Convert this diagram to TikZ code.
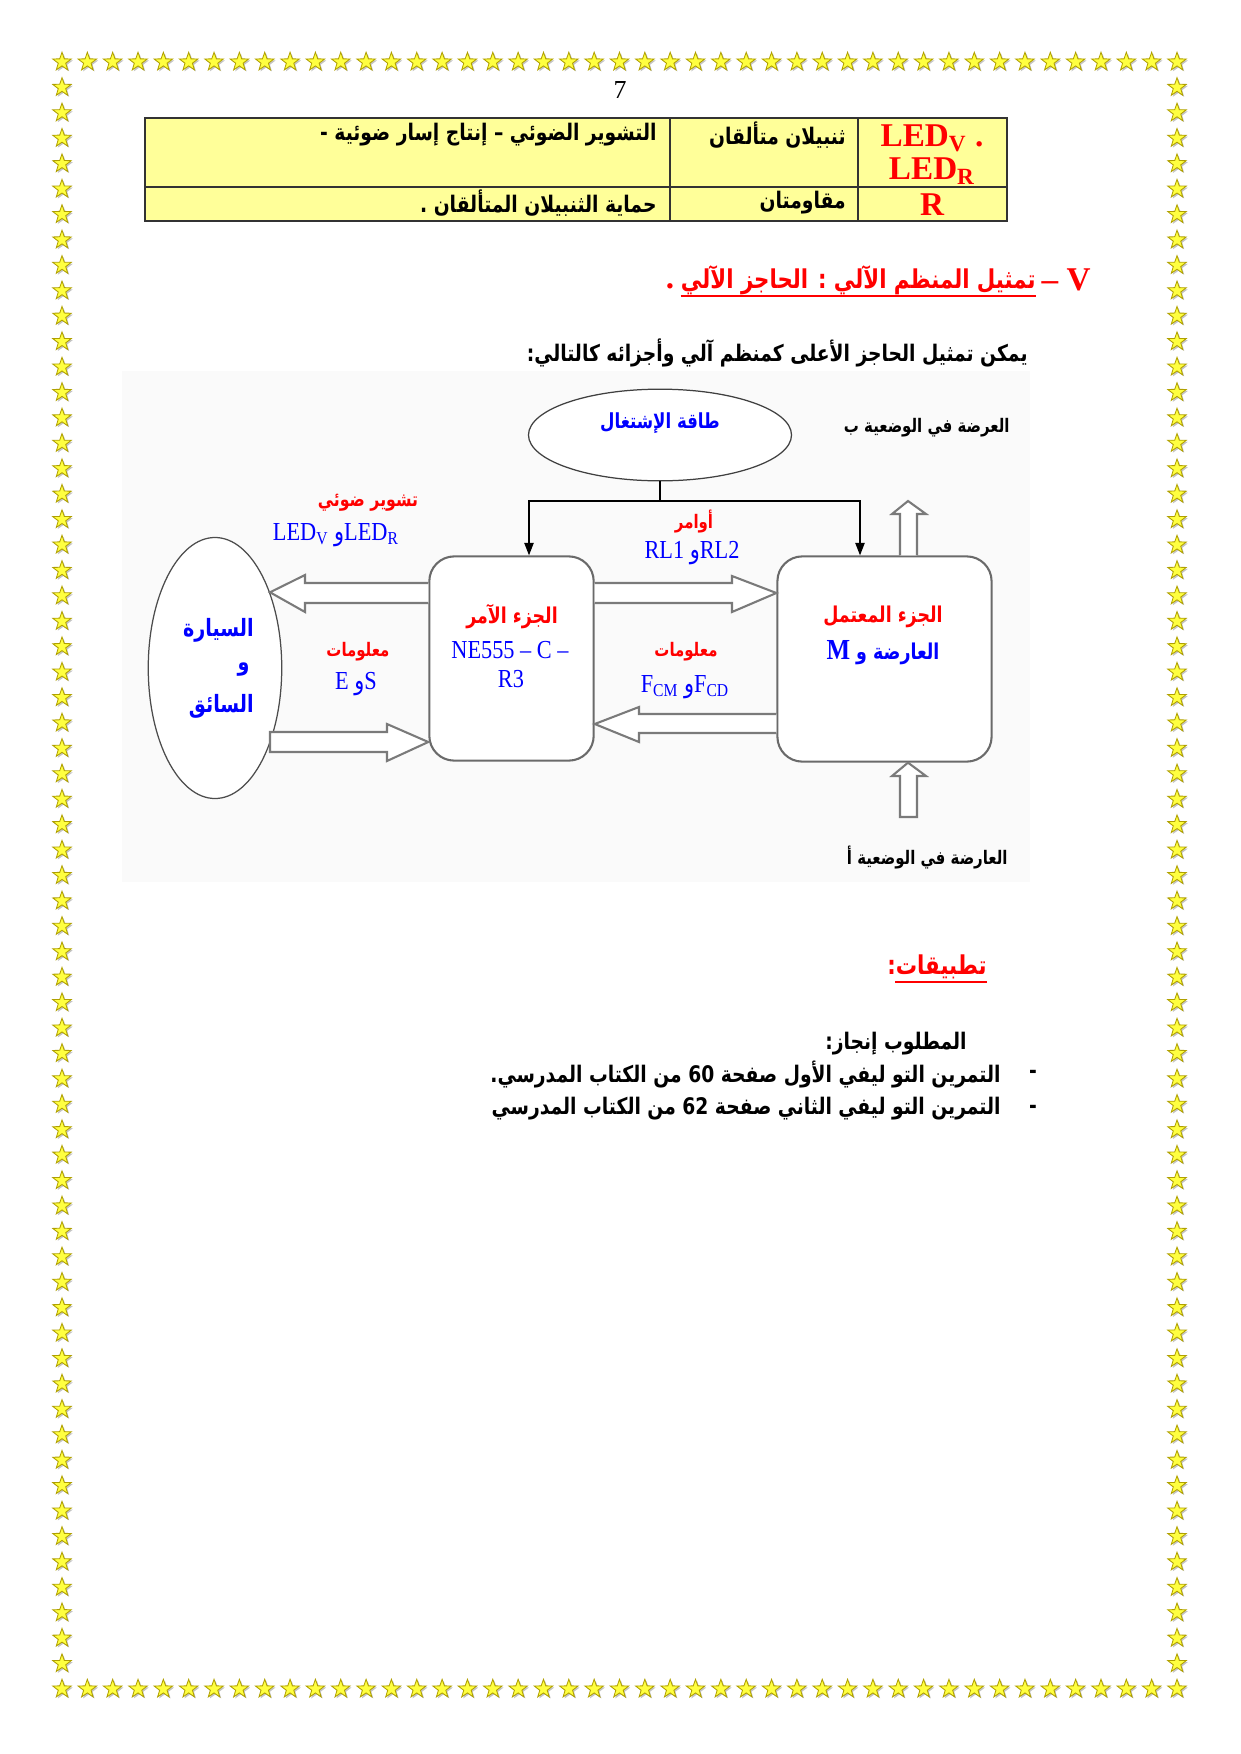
\documentclass[tikz,border=0pt]{standalone}
\usepackage{fontspec}
\usepackage{tikz}
\usetikzlibrary{shapes.geometric,arrows.meta,calc}
\setmainfont{Liberation Serif}
\newfontfamily\arabicfont[Script=Arabic,FakeStretch=0.82]{DejaVu Sans}
\newfontfamily\schemafont[FakeStretch=0.86]{Liberation Serif}
\newfontfamily\schemaarabic[Script=Arabic,FakeStretch=0.8]{DejaVu Sans}
\TeXXeTstate=1
\definecolor{tabyellow}{HTML}{FFFF99}
\definecolor{starfill}{HTML}{FFFF40}
\definecolor{staredge}{HTML}{B0A000}
\definecolor{starshadow}{HTML}{C4C4C4}
\definecolor{boxgrey}{HTML}{6A6A6A}
\definecolor{arrowgrey}{HTML}{7A7A7A}
\newdimen\pxu \pxu=0.4801pt
\newcommand{\rtl}[1]{\beginR #1\endR}

\begin{document}
\begin{tikzpicture}[x=0.016935cm, y=-0.016935cm,
  starbox/.style={star, star points=5, star point ratio=2.5, minimum size=9.4pt, inner sep=0pt, fill=starfill, draw=staredge, line width=0.4pt},
  starshade/.style={star, star points=5, star point ratio=2.5, minimum size=9.4pt, inner sep=0pt, fill=starshadow},
  tabline/.style={draw=black!80, line width=0.9pt},
  cell/.style={inner sep=0pt, font=\arabicfont\bfseries\fontsize{11}{13}\selectfont},
  ledtxt/.style={inner sep=0pt, text=red, font=\bfseries\fontsize{16}{18}\selectfont},
  partbox/.style={rectangle, rounded corners=12pt, draw=boxgrey, line width=1pt, fill=white, inner sep=0pt},
  bigarrow/.style={draw=arrowgrey, line width=1pt, fill=white, line join=miter},
  order/.style={draw=black, line width=0.6pt},
  schemaar/.style={inner sep=0pt, font=\schemaarabic\bfseries\fontsize{10.5}{12}\selectfont},
  smallar/.style={inner sep=0pt, font=\schemaarabic\bfseries\fontsize{9}{11}\selectfont},
  schemalat/.style={inner sep=0pt, text=blue, font=\schemafont\fontsize{12.5}{14}\selectfont},
  bodytxt/.style={inner sep=0pt, font=\arabicfont\bfseries\fontsize{11}{13}\selectfont}]
\useasboundingbox (0,0) rectangle (1240,1754);
\fill[white] (0,0) rectangle (1240,1754);

%====================================================
% STAR FRAME
%====================================================
\foreach \i in {0,...,44} {
  \node[starshade] at ({63.5+25.341*\i},63.5) {};
  \node[starshade] at ({63.5+25.341*\i},1690.5) {};
  \node[starbox] (startop\i) at ({62+25.341*\i},62) {};
  \node[starbox] (starbot\i) at ({62+25.341*\i},1689) {};
}
\foreach \j in {1,...,63} {
  \node[starshade] at (63.5,{63.5+25.422*\j}) {};
  \node[starshade] at (1178.5,{63.5+25.422*\j}) {};
  \node[starbox] (starleft\j) at (62,{62+25.422*\j}) {};
  \node[starbox] (starright\j) at (1177,{62+25.422*\j}) {};
}

\node[inner sep=0pt, font=\fontsize{12.5}{14}\selectfont] (pagenum) at (620,90) {7};

%====================================================
% COMPONENT TABLE
%====================================================
\fill[tabyellow] (145,118) rectangle (1007,221);
\draw[tabline] (145,118) rectangle (1007,221);
\draw[tabline] (145,187) -- (1007,187);
\draw[tabline] (670,118) -- (670,221);
\draw[tabline] (858,118) -- (858,221);
\node[cell, anchor=east] (role1) at (657,135) {\rtl{التشوير الضوئي – إنتاج إسار ضوئية -}};
\node[cell, anchor=east] (name1) at (846,135) {\rtl{ثنبيلان متألقان}};
\node[ledtxt] (ledv) at (932,138) {LED\textsubscript{V} .};
\node[ledtxt] (ledr) at (932,171) {LED\textsubscript{R}};
\node[cell, anchor=east] (role2) at (657,203) {\rtl{حماية الثنبيلان المتألقان .}};
\node[cell, anchor=east] (name2) at (846,203) {\rtl{مقاومتان}};
\node[ledtxt] (resr) at (932,205) {R};

%====================================================
% TITLE AND INTRO
%====================================================
\node[ledtxt, anchor=east] (secnum) at (1091,280) {– V};
\node[inner sep=0pt, anchor=east, text=red, font=\arabicfont\bfseries\fontsize{12.5}{15}\selectfont] (sectitle) at (1036,280) {\rtl{تمثيل المنظم الآلي : الحاجز الآلي}};
\draw[red, line width=1pt] ($(sectitle.west)+(0,16)$) -- ($(sectitle.east)+(0,16)$);
\node[ledtxt, anchor=base east] (secdot) at ($(sectitle.base west)+(-6,0)$) {.};
\node[bodytxt, anchor=east] (intro) at (1028,353) {\rtl{يمكن تمثيل الحاجز الأعلى كمنظم آلي وأجزائه كالتالي:}};

%====================================================
% AUTOMATED SYSTEM SCHEME
%====================================================
\fill[black!2] (122,371) rectangle (1030,882);
\node[ellipse, draw=black!75, line width=0.6pt, fill=white, minimum width=264\pxu, minimum height=92\pxu, inner sep=0pt] (energy) at (660,435) {};
\node[schemaar, text=blue, font=\schemaarabic\bfseries\fontsize{10}{12}\selectfont] (energylbl) at (660,423) {\rtl{طاقة الإشتغال}};
\node[smallar, anchor=east] (posb) at (1010,428) {\rtl{العرضة في الوضعية ب}};

\node[partbox, minimum width=165\pxu, minimum height=205\pxu] (cmd) at (511.5,658.5) {};
\node[partbox, minimum width=215\pxu, minimum height=206\pxu] (op) at (884.5,659) {};
\node[ellipse, draw=black!70, line width=0.6pt, fill=white, minimum width=134\pxu, minimum height=262\pxu, inner sep=0pt] (car) at (215,668) {};

% orders from energy
\coordinate (split) at (energy.south |- 0,501);
\draw[order] (energy.south) -- (split);
\draw[order, -{Triangle[length=6pt,width=4.5pt]}] (split) -| ($(cmd.north)+(17.5,0)$);
\draw[order, -{Triangle[length=6pt,width=4.5pt]}] (split) -| ($(op.north)+(-24.5,0)$);

% block arrows
\draw[bigarrow] (cmd.west |- 0,583) -- (305,583) -- (305,575) -- (car.54) -- (305,612) -- (305,603) -- (cmd.west |- 0,603);
\draw[bigarrow] (car.-54 |- 0,732) -- (387,732) -- (387,724) -- (cmd.west |- 0,742) -- (387,761) -- (387,752) -- (car.-54 |- 0,752) -- cycle;
\draw[bigarrow] (cmd.east |- 0,583) -- (732,583) -- (732,576) -- (op.west |- 0,593) -- (732,612) -- (732,603) -- (cmd.east |- 0,603);
\draw[bigarrow] (op.west |- 0,714) -- (639,714) -- (639,707) -- (cmd.east |- 0,724) -- (639,742) -- (639,733) -- (op.west |- 0,733);
\draw[bigarrow] (op.north -| 900,0) -- (900,514) -- (892,514) -- (908,501) -- (926,514) -- (917,514) -- (op.north -| 917,0);
\draw[bigarrow] (900,817) -- (900,776) -- (892,776) -- (op.south -| 908,0) -- (926,776) -- (917,776) -- (917,817) -- cycle;

% labels
\node[smallar, text=red, font=\schemaarabic\bfseries\fontsize{9.5}{11}\selectfont] (lightlbl) at (368,503) {\rtl{تشوير ضوئي}};
\node[schemalat] (ledlbl) at (336,535) {LED\textsubscript{V} {\schemaarabic و}LED\textsubscript{R}};
\node[smallar, text=red] (orderlbl) at (694,521) {\rtl{أوامر}};
\node[schemalat] (rllbl) at (692,553) {RL1 {\schemaarabic و}RL2};
\node[schemaar, text=red] (cmdtitle) at (512,617) {\rtl{الجزء الآمر}};
\node[schemalat] (cmdparts) at (510,650) {NE555 – C –};
\node[schemalat] (cmdr) at (511,679) {R3};
\node[schemaar, text=red] (optitle) at (883,617) {\rtl{الجزء المعتمل}};
\node[schemaar, text=blue] (opparts) at (883,653) {\rtl{العارضة و {\schemafont\bfseries\fontsize{14}{16}\selectfont M}}};
\node[smallar, text=red] (infol) at (358,652) {\rtl{معلومات}};
\node[schemalat] (eslbl) at (356,684) {E {\schemaarabic و}S};
\node[smallar, text=red] (infor) at (686,652) {\rtl{معلومات}};
\node[schemalat] (fclbl) at (685,687) {F\textsubscript{CM} {\schemaarabic و}F\textsubscript{CD}};
\node[schemaar, text=blue, anchor=east, font=\schemaarabic\bfseries\fontsize{11.5}{13}\selectfont] (carl1) at (254,630) {\rtl{السيارة}};
\node[schemaar, text=blue, anchor=east, font=\schemaarabic\bfseries\fontsize{11.5}{13}\selectfont] (carl2) at (250,670) {\rtl{و}};
\node[schemaar, text=blue, anchor=east, font=\schemaarabic\bfseries\fontsize{11.5}{13}\selectfont] (carl3) at (254,706) {\rtl{السائق}};
\node[smallar, anchor=east] (posa) at (1008,857) {\rtl{العارضة في الوضعية أ}};

%====================================================
% EXERCISES
%====================================================
\node[inner sep=0pt, anchor=east, text=red, font=\arabicfont\bfseries\fontsize{12.5}{15}\selectfont] (apptitle) at (987,967) {\rtl{تطبيقات:}};
\draw[red, line width=1pt] ($(apptitle.east)+(0,15)$) -- ($(apptitle.west)+(8,15)$);
\node[bodytxt, anchor=east] (task) at (967,1044) {\rtl{المطلوب إنجاز:}};
\node[bodytxt] (dash1) at (1033,1074) {-};
\node[bodytxt, anchor=east] (ex1) at (1001,1074) {\rtl{التمرين التو ليفي الأول صفحة \beginL 60\endL{} من الكتاب المدرسي.}};
\node[bodytxt] (dash2) at (1033,1109) {-};
\node[bodytxt, anchor=east] (ex2) at (1001,1109) {\rtl{التمرين التو ليفي الثاني  صفحة \beginL 62\endL{} من الكتاب المدرسي}};
\end{tikzpicture}
\end{document}
